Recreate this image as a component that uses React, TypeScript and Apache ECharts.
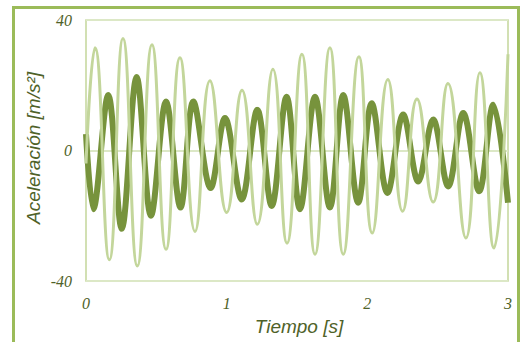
import React, { useEffect, useRef } from "react";
import * as echarts from "echarts";

// Light green signal: extrema (time [s], acceleration [m/s²])
const lightTimes = [0, 0.064, 0.166, 0.263, 0.365, 0.469, 0.569, 0.668, 0.775, 0.881, 1.0, 1.109, 1.218, 1.329, 1.429, 1.535, 1.628, 1.734, 1.829, 1.94, 2.035, 2.146, 2.251, 2.353, 2.468, 2.573, 2.701, 2.8, 2.9, 3.0];
const lightValues = [-4, 31.5, -33.5, 34.3, -35.4, 32.4, -30.3, 28.4, -24.8, 21.4, -19, 18.5, -22.6, 24.9, -28.4, 29.5, -31.8, 31.5, -31.8, 28.7, -25.3, 21.8, -18.6, 15.8, -15.8, 20.5, -26.8, 23.8, -29.9, 29.5];

// Dark green signal: extrema
const darkTimes = [0, 0.052, 0.158, 0.254, 0.36, 0.462, 0.569, 0.672, 0.763, 0.886, 0.988, 1.107, 1.218, 1.32, 1.426, 1.521, 1.628, 1.734, 1.829, 1.935, 2.031, 2.143, 2.255, 2.362, 2.468, 2.575, 2.682, 2.795, 2.895, 3.0];
const darkValues = [5, -18, 17, -24, 22.5, -20, 15, -17.5, 15, -11.5, 10, -15, 12.5, -17, 16.5, -18, 16.5, -17.5, 17, -16, 14.5, -13, 11, -9.5, 9.5, -11, 11.5, -12.5, 14, -16];

const xTicks = [0, 1, 2, 3];
const yTicks = [-40, 0, 40];

const TEXT = "#4F6228";

export default function App() {
  const ref = useRef<HTMLDivElement>(null);
  useEffect(() => {
    if (!ref.current) return;
    const chart = echarts.init(ref.current, null, { renderer: "svg" });
    const light = lightTimes.map((t, i) => [t, lightValues[i]]);
    const dark = darkTimes.map((t, i) => [t, darkValues[i]]);
    chart.setOption({
      animation: false,
      backgroundColor: "#ffffff",
      grid: {
        left: 86,
        top: 20,
        right: 14,
        bottom: 61,
        show: true,
        borderColor: "#C3D69B",
        borderWidth: 1.5,
        backgroundColor: "transparent",
      },
      xAxis: {
        type: "value",
        min: xTicks[0],
        max: xTicks[xTicks.length - 1],
        interval: 1,
        axisLine: { show: false },
        axisTick: { show: false },
        splitLine: { show: false },
        axisLabel: {
          margin: 14,
          color: TEXT,
          fontFamily: "Liberation Serif",
          fontStyle: "italic",
          fontSize: 16,
        },
      },
      yAxis: {
        type: "value",
        min: yTicks[0],
        max: yTicks[yTicks.length - 1],
        interval: 40,
        axisLine: { show: false },
        axisTick: { show: false },
        splitLine: { show: true, lineStyle: { color: "#DCE8C6", width: 2 } },
        axisLabel: {
          margin: 14,
          color: TEXT,
          fontFamily: "Liberation Serif",
          fontStyle: "italic",
          fontSize: 16,
        },
      },
      graphic: [
        {
          type: "rect",
          shape: { x: 13.5, y: 7.5, width: 505, height: 360 },
          style: { fill: "none", stroke: "#9BBB59", lineWidth: 3 },
          silent: true,
        },
        {
          type: "text",
          x: 33,
          y: 148,
          rotation: Math.PI / 2,
          style: {
            text: "Aceleración [m/s²]",
            fill: TEXT,
            font: "italic 19px 'Liberation Sans'",
            align: "center",
            verticalAlign: "middle",
          },
        },
        {
          type: "text",
          x: 299,
          y: 326,
          style: {
            text: "Tiempo [s]",
            fill: TEXT,
            font: "italic 19px 'Liberation Sans'",
            align: "center",
            verticalAlign: "middle",
          },
        },
      ],
      series: [
        {
          type: "line",
          data: dark,
          smooth: 0.35,
          symbol: "none",
          lineStyle: { color: "#77933C", width: 6 },
          z: 2,
        },
        {
          type: "line",
          data: light,
          smooth: 0.5,
          symbol: "none",
          lineStyle: { color: "#C3D69B", width: 3 },
          z: 3,
        },
      ],
    });
    return () => chart.dispose();
  }, []);
  return (
    <div
      ref={ref}
      style={{ position: "fixed", left: 0, top: 0, width: 522, height: 342 }}
    />
  );
}
